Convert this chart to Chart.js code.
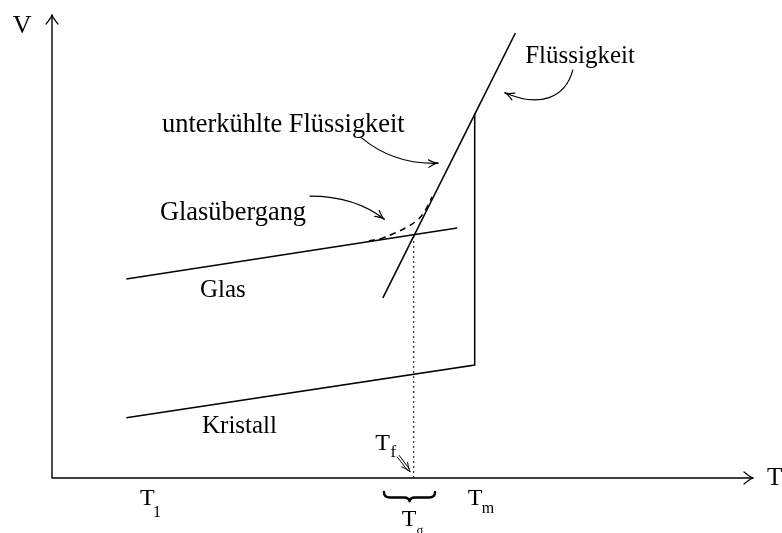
<!DOCTYPE html>
<html>
<head>
    <title>Glasübergang</title>
    <script src="https://cdn.jsdelivr.net/npm/chart.js@4.4.5/dist/chart.umd.min.js"></script>
    <style>
        body { margin: 0; background: #fff; }
    </style>
</head>
<body>
    <canvas id="vtChart" width="782" height="533"></canvas>

    <script>
        // Volume vs. temperature curves (arbitrary units, 0..100 on both axes)
        const glasT = [10.6, 57.8];
        const glasV = [43.0, 54.0];
        const kristallT = [10.6, 60.3, 60.3];
        const kristallV = [13.0, 24.4, 78.8];
        const fluessigT = [47.2, 66.1];
        const fluessigV = [38.9, 96.1];
        const uebergangT = [45.2, 47.1, 48.6, 50.4, 51.8, 52.8, 53.6, 54.2];
        const uebergangV = [51.2, 51.8, 52.7, 54.0, 55.3, 56.8, 58.8, 60.7];
        const tfT = [51.6, 51.6];
        const tfV = [0, 52.5];

        // temperature marks under the T axis
        const tickT = [12.55, 49.9, 59.3];
        const tickSub = ['1', 'σ', 'm'];

        const pts = (ts, vs) => ts.map((t, i) => ({ x: t, y: vs[i] }));
        const FONT = '"Liberation Serif", "DejaVu Serif", serif';

        function line(data, extra) {
            return Object.assign({
                data: data,
                showLine: true,
                pointRadius: 0,
                borderColor: '#000',
                borderWidth: 1.5,
                fill: false
            }, extra || {});
        }

        // axes, labels, arrows and the brace
        const sketch = {
            id: 'sketch',
            afterDraw(chart) {
                const ctx = chart.ctx;
                const X = t => chart.scales.x.getPixelForValue(t);
                const Y = v => chart.scales.y.getPixelForValue(v);
                ctx.save();
                ctx.strokeStyle = '#000';
                ctx.fillStyle = '#000';
                ctx.lineCap = 'round';
                ctx.lineJoin = 'round';

                // axes with open arrow heads
                ctx.lineWidth = 1.4;
                ctx.beginPath();
                ctx.moveTo(X(0), Y(0));
                ctx.lineTo(X(0), Y(100));
                ctx.moveTo(X(0), Y(0));
                ctx.lineTo(X(100), Y(0));
                ctx.stroke();
                ctx.lineWidth = 1.2;
                ctx.beginPath();
                ctx.moveTo(X(0) - 6, Y(100) + 9);
                ctx.quadraticCurveTo(X(0) - 1, Y(100) + 3, X(0), Y(100));
                ctx.quadraticCurveTo(X(0) + 1, Y(100) + 3, X(0) + 6, Y(100) + 9);
                ctx.moveTo(X(100) - 9, Y(0) - 6);
                ctx.quadraticCurveTo(X(100) - 3, Y(0) - 1, X(100), Y(0));
                ctx.quadraticCurveTo(X(100) - 3, Y(0) + 1, X(100) - 9, Y(0) + 6);
                ctx.stroke();

                // text
                function text(s, t, v, size) {
                    ctx.font = size + 'px ' + FONT;
                    ctx.textAlign = 'left';
                    ctx.textBaseline = 'alphabetic';
                    ctx.fillText(s, X(t), Y(v));
                }
                text('V', -5.6, 96.1, 26);
                text('T', 102.0, -1.5, 25);
                text('Flüssigkeit', 67.5, 89.6, 25);
                text('unterkühlte Flüssigkeit', 15.7, 74.7, 26.4);
                text('Glasübergang', 15.4, 55.7, 26.4);
                text('Glas', 21.1, 39.1, 25);
                text('Kristall', 21.4, 9.7, 25);

                // T_f above the axis
                text('T', 46.1, 6.05, 24);
                text('f', 48.3, 4.5, 17);

                // T_1, T_sigma, T_m below the axis
                const subDx = [1.85, 2.15, 2.0];
                const subDv = [-2.6, -1.6, -1.75];
                tickT.forEach((t, i) => {
                    const v = i === 1 ? -10.4 : -5.83;
                    text('T', t, v, 24);
                    text(tickSub[i], t + subDx[i], v + subDv[i], i === 1 ? 12 : 16);
                });

                // arrow helper: head at (x, y) pointing along angle a
                function head(x, y, a) {
                    const L = 10, w = 0.38;
                    ctx.beginPath();
                    ctx.moveTo(x - L * Math.cos(a - w), y - L * Math.sin(a - w));
                    ctx.quadraticCurveTo(x - 3 * Math.cos(a), y - 3 * Math.sin(a), x, y);
                    ctx.quadraticCurveTo(x - 3 * Math.cos(a), y - 3 * Math.sin(a),
                        x - L * Math.cos(a + w), y - L * Math.sin(a + w));
                    ctx.stroke();
                }
                ctx.lineWidth = 1.2;

                // arrow to Flüssigkeit line
                let p0 = [X(74.3), Y(88.1)], p1 = [X(73.2), Y(82.1)],
                    p2 = [X(69.6), Y(79.9)], p3 = [X(64.6), Y(83.2)];
                ctx.beginPath();
                ctx.moveTo(p0[0], p0[1]);
                ctx.bezierCurveTo(p1[0], p1[1], p2[0], p2[1], p3[0], p3[1]);
                ctx.stroke();
                head(p3[0], p3[1], Math.atan2(p3[1] - p2[1], p3[0] - p2[0]));

                // arrow from unterkühlte Flüssigkeit
                p0 = [X(44.2), Y(73.4)]; p1 = [X(48.9), Y(67.6)]; p2 = [X(55.06), Y(68.0)];
                ctx.beginPath();
                ctx.moveTo(p0[0], p0[1]);
                ctx.quadraticCurveTo(p1[0], p1[1], p2[0], p2[1]);
                ctx.stroke();
                head(p2[0], p2[1], Math.atan2(p2[1] - p1[1], p2[0] - p1[0]));

                // arrow from Glasübergang
                p0 = [X(36.8), Y(60.9)]; p1 = [X(43.2), Y(60.9)]; p2 = [X(47.4), Y(55.9)];
                ctx.beginPath();
                ctx.moveTo(p0[0], p0[1]);
                ctx.quadraticCurveTo(p1[0], p1[1], p2[0], p2[1]);
                ctx.stroke();
                head(p2[0], p2[1], Math.atan2(p2[1] - p1[1], p2[0] - p1[0]));

                // T_f arrow (double stroke)
                const ax = X(49.4), ay = Y(4.7), bx = X(51.1), by = Y(1.3);
                const ang = Math.atan2(by - ay, bx - ax);
                const nx = -Math.sin(ang) * 1.2, ny = Math.cos(ang) * 1.2;
                ctx.lineWidth = 1;
                ctx.beginPath();
                ctx.moveTo(ax + nx, ay + ny);
                ctx.lineTo(bx - 3 * Math.cos(ang) + nx, by - 3 * Math.sin(ang) + ny);
                ctx.moveTo(ax - nx, ay - ny);
                ctx.lineTo(bx - 3 * Math.cos(ang) - nx, by - 3 * Math.sin(ang) - ny);
                ctx.stroke();
                head(bx, by, ang);

                // curly brace under T_f
                const l = X(47.36), r = X(54.64), m = (l + r) / 2;
                const top = Y(-3.0), mid = Y(-4.2), tip = Y(-5.0);
                ctx.lineWidth = 2.4;
                ctx.beginPath();
                ctx.moveTo(l, top);
                ctx.quadraticCurveTo(l, mid, l + 6, mid);
                ctx.lineTo(m - 5, mid);
                ctx.quadraticCurveTo(m - 1, mid, m, tip);
                ctx.quadraticCurveTo(m + 1, mid, m + 5, mid);
                ctx.lineTo(r - 6, mid);
                ctx.quadraticCurveTo(r, mid, r, top);
                ctx.stroke();

                ctx.restore();
            }
        };

        new Chart(document.getElementById('vtChart'), {
            type: 'scatter',
            data: {
                datasets: [
                    line(pts(glasT, glasV)),
                    line(pts(kristallT, kristallV)),
                    line(pts(fluessigT, fluessigV)),
                    line(pts(uebergangT, uebergangV), { borderDash: [6, 5], tension: 0.4 }),
                    line(pts(tfT, tfV), { borderDash: [2, 3], borderWidth: 1 })
                ]
            },
            options: {
                responsive: false,
                animation: false,
                layout: { padding: { left: 52, right: 29, top: 15, bottom: 55 } },
                scales: {
                    x: { type: 'linear', min: 0, max: 100, display: false },
                    y: { type: 'linear', min: 0, max: 100, display: false }
                },
                plugins: {
                    legend: { display: false },
                    tooltip: { enabled: false }
                }
            },
            plugins: [sketch]
        });
    </script>
</body>
</html>
